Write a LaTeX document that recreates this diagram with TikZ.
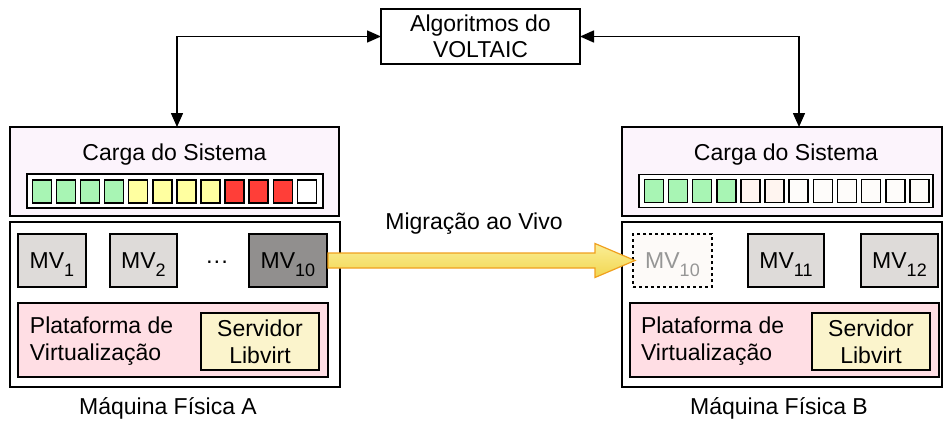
\documentclass[tikz,border=0pt]{standalone}
\usepackage{fontspec}
\setmainfont{Liberation Sans}
\usetikzlibrary{arrows.meta,calc}
\definecolor{cargafill}{RGB}{252,244,252}
\definecolor{cgreen}{RGB}{168,245,180}
\definecolor{cyellow}{RGB}{255,255,160}
\definecolor{cred}{RGB}{255,62,56}
\definecolor{cwhite}{RGB}{255,255,255}
\definecolor{cfaint}{RGB}{255,245,240}
\definecolor{coff}{RGB}{254,252,250}
\definecolor{vmgray}{RGB}{222,219,217}
\definecolor{vmdark}{RGB}{145,143,142}
\definecolor{pinkfill}{RGB}{255,222,228}
\definecolor{cream}{RGB}{251,244,204}
\definecolor{arrowtop}{RGB}{250,238,150}
\definecolor{arrowbot}{RGB}{242,214,80}
\definecolor{arrowedge}{RGB}{240,160,30}
\definecolor{ghostfill}{RGB}{253,250,248}
\definecolor{ghosttext}{RGB}{150,150,150}
\newcommand\sbs[1]{\raisebox{-8pt}{\fontsize{18}{18}\selectfont #1}}
\begin{document}
\begin{tikzpicture}[x=1pt,y=-1pt,
  every node/.style={inner sep=0pt, outer sep=0pt, font=\fontsize{23}{27}\selectfont},
  frame/.style={draw=black, line width=1.6pt},
  cell/.style={draw=black, line width=1.5pt, minimum width=19pt, minimum height=23pt},
  vm/.style={draw=black, line width=1.5pt, fill=vmgray, minimum height=53pt},
  conn/.style={line width=1.5pt, {Triangle[length=14pt,width=12pt]}-{Triangle[length=14pt,width=12pt]}}
]
\useasboundingbox (0,0) rectangle (943,424);

% top algorithm box
\node[frame, fill=white, minimum width=199pt, minimum height=55pt, align=center,
      font=\fontsize{23}{26}\selectfont] (algo) at (480.5,36.5) {Algoritmos do\\VOLTAIC};

% ---------- Machine A ----------
\node[frame, fill=cargafill, minimum width=329pt, minimum height=89pt] (cargaA) at (174.5,171.5) {};
\node[anchor=base] (cargaAt) at (174.5,160) {Carga do Sistema};
\node[frame, fill=white, minimum width=296pt, minimum height=34pt] (barA) at (175,191) {};
\foreach \i/\c in {0/cgreen,1/cgreen,2/cgreen,3/cgreen,4/cyellow,5/cyellow,6/cyellow,7/cyellow,8/cred,9/cred,10/cred,11/cwhite}
  \node[cell, fill=\c] (ca\i) at ({41.8+24.1*\i},191.5) {};

\node[frame, fill=white, minimum width=330pt, minimum height=165pt] (lowA) at (175,304.5) {};
\node[vm, minimum width=68pt] (mv1) at (52,260.5) {};
\node[anchor=base] (mv1t) at ($(mv1.center)+(0,7.5)$) {MV\sbs{1}};
\node[vm, minimum width=67pt] (mv2) at (143.5,260.5) {};
\node[anchor=base] (mv2t) at ($(mv2.center)+(0,7.5)$) {MV\sbs{2}};
\node[anchor=base] (dots) at (217,268) {···};
\node[vm, fill=vmdark, minimum width=78pt] (mv10a) at (288,260.5) {};
\node[anchor=base] (mv10at) at ($(mv10a.center)+(0,7.5)$) {MV\sbs{10}};
\node[frame, fill=pinkfill, minimum width=310pt, minimum height=74pt] (platA) at (173,340) {};
\node[anchor=west, align=left] (platAt) at (30,341.5) {Plataforma de\\Virtualização};
\node[frame, fill=cream, minimum width=118pt, minimum height=57pt, align=center] (srvA) at (260,341.5) {Servidor\\Libvirt};
\node[anchor=base] (labA) at (168,414) {Máquina Física A};

% ---------- Machine B ----------
\node[frame, fill=cargafill, minimum width=320pt, minimum height=89pt] (cargaB) at (782,171.5) {};
\node[anchor=base] (cargaBt) at (786,160) {Carga do Sistema};
\node[frame, fill=white, minimum width=294pt, minimum height=33pt] (barB) at (786.2,190.8) {};
\foreach \i/\c in {0/cgreen,1/cgreen,2/cgreen,3/cgreen,4/cfaint,5/cfaint,6/coff,7/coff,8/coff,9/coff,10/coff,11/coff}
  \node[cell, fill=\c] (cb\i) at ({653.8+24.15*\i},191.2) {};

\node[frame, fill=white, minimum width=320pt, minimum height=165pt] (lowB) at (782,304.5) {};
\node[draw=black, line width=1.5pt, dash pattern=on 3pt off 3pt, fill=ghostfill,
      minimum width=79pt, minimum height=53pt] (mv10b) at (672.5,260.5) {};
\node[anchor=base, text=ghosttext] (mv10bt) at ($(mv10b.center)+(0,7.5)$) {MV\sbs{10}};
\node[vm, minimum width=76pt] (mv11) at (786,260.5) {};
\node[anchor=base] (mv11t) at ($(mv11.center)+(0,7.5)$) {MV\sbs{11}};
\node[vm, minimum width=77pt] (mv12) at (899.5,260.5) {};
\node[anchor=base] (mv12t) at ($(mv12.center)+(0,7.5)$) {MV\sbs{12}};
\node[frame, fill=pinkfill, minimum width=309pt, minimum height=74pt] (platB) at (784.5,340) {};
\node[anchor=west, align=left] (platBt) at (641,341.5) {Plataforma de\\Virtualização};
\node[frame, fill=cream, minimum width=118pt, minimum height=57pt, align=center] (srvB) at (871,341.5) {Servidor\\Libvirt};
\node[anchor=base] (labB) at (779,414) {Máquina Física B};

% ---------- migration arrow ----------
\node[anchor=base] (mig) at (474,229) {Migração ao Vivo};
\path[draw=arrowedge, line width=1.2pt, line join=miter, top color=arrowtop, bottom color=arrowbot]
  ($(mv10a.east)+(1,-7.5)$) -- ($(mv10b.west)+(-38,-7.5)$) -- ($(mv10b.west)+(-38,-17)$)
  -- ($(mv10b.west)+(2,0)$) -- ($(mv10b.west)+(-38,17)$) -- ($(mv10b.west)+(-38,7.5)$)
  -- ($(mv10a.east)+(1,7.5)$) -- cycle;

% ---------- control arrows ----------
\draw[conn] (algo.west) -| ($(cargaA.north west)+(167,0)$);
\draw[conn] (algo.east) -| ($(cargaB.north west)+(177,0)$);
\end{tikzpicture}
\end{document}
